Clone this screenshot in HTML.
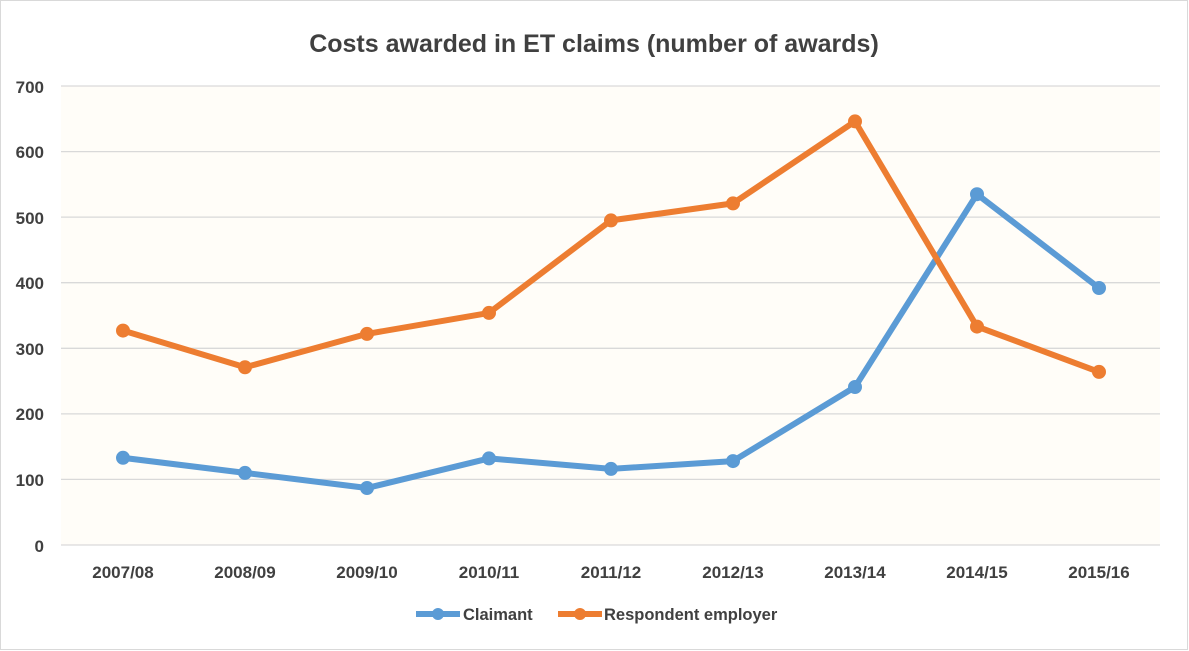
<!DOCTYPE html>
<html><head><style>body{margin:0;background:#fff}svg{display:block;font-family:"Liberation Sans",sans-serif}</style></head><body>
<svg width="1189" height="651" viewBox="0 0 1189 651">
<rect x="0.5" y="0.5" width="1187" height="649" fill="#fff" stroke="#d9d9d9"/>
<rect x="61" y="86" width="1099" height="459" fill="#fffdf8"/>
<g stroke="#d9d9d9" stroke-width="1.3">
<line x1="61" x2="1160" y1="86" y2="86"/><line x1="61" x2="1160" y1="151.6" y2="151.6"/><line x1="61" x2="1160" y1="217.1" y2="217.1"/><line x1="61" x2="1160" y1="282.7" y2="282.7"/><line x1="61" x2="1160" y1="348.3" y2="348.3"/><line x1="61" x2="1160" y1="413.9" y2="413.9"/><line x1="61" x2="1160" y1="479.4" y2="479.4"/><line x1="61" x2="1160" y1="545" y2="545"/>
</g>
<text x="594" y="52" text-anchor="middle" font-size="25" font-weight="bold" fill="#404040">Costs awarded in ET claims (number of awards)</text>
<g font-size="17" font-weight="bold" fill="#404040" text-anchor="end">
<text x="44" y="93">700</text><text x="44" y="158">600</text><text x="44" y="224">500</text><text x="44" y="289">400</text><text x="44" y="355">300</text><text x="44" y="420">200</text><text x="44" y="486">100</text><text x="44" y="552">0</text>
</g>
<g font-size="17" font-weight="bold" fill="#404040" text-anchor="middle">
<text x="123" y="578">2007/08</text><text x="245" y="578">2008/09</text><text x="367" y="578">2009/10</text><text x="489" y="578">2010/11</text><text x="611" y="578">2011/12</text><text x="733" y="578">2012/13</text><text x="855" y="578">2013/14</text><text x="977" y="578">2014/15</text><text x="1099" y="578">2015/16</text>
</g>
<g fill="#5b9bd5" stroke="#5b9bd5">
<polyline fill="none" stroke-width="6" stroke-linejoin="round" points="123,457.8 245,472.9 367,488 489,458.4 611,468.9 733,461.1 855,387 977,194.2 1099,288"/>
<circle cx="123" cy="457.8" r="6.5"/><circle cx="245" cy="472.9" r="6.5"/><circle cx="367" cy="488" r="6.5"/><circle cx="489" cy="458.4" r="6.5"/><circle cx="611" cy="468.9" r="6.5"/><circle cx="733" cy="461.1" r="6.5"/><circle cx="855" cy="387" r="6.5"/><circle cx="977" cy="194.2" r="6.5"/><circle cx="1099" cy="288" r="6.5"/>
</g>
<g fill="#ed7d31" stroke="#ed7d31">
<polyline fill="none" stroke-width="6" stroke-linejoin="round" points="123,330.6 245,367.3 367,333.9 489,312.9 611,220.4 733,203.4 855,121.4 977,326.6 1099,371.9"/>
<circle cx="123" cy="330.6" r="6.5"/><circle cx="245" cy="367.3" r="6.5"/><circle cx="367" cy="333.9" r="6.5"/><circle cx="489" cy="312.9" r="6.5"/><circle cx="611" cy="220.4" r="6.5"/><circle cx="733" cy="203.4" r="6.5"/><circle cx="855" cy="121.4" r="6.5"/><circle cx="977" cy="326.6" r="6.5"/><circle cx="1099" cy="371.9" r="6.5"/>
</g>
<line x1="416" x2="460" y1="614" y2="614" stroke="#5b9bd5" stroke-width="6"/><circle cx="438" cy="614" r="6" fill="#5b9bd5"/>
<text x="463" y="620" font-size="16.5" font-weight="bold" fill="#404040">Claimant</text>
<line x1="558" x2="602" y1="614" y2="614" stroke="#ed7d31" stroke-width="6"/><circle cx="580" cy="614" r="6" fill="#ed7d31"/>
<text x="604" y="620" font-size="16.5" font-weight="bold" fill="#404040">Respondent employer</text>
</svg>
</body></html>
